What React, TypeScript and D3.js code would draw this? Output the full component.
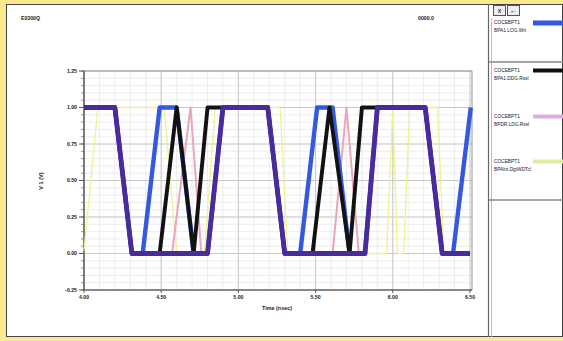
import React from "react";
import * as d3 from "d3";

const W = 563;
const H = 341;

// Axis ticks
const yTicks = [-0.25, 0, 0.25, 0.5, 0.75, 1.0, 1.25];
const yTickLabels = ["-0.25", "0.00", "0.25", "0.50", "0.75", "1.00", "1.25"];
const xTicks = [0, 0.5, 1.0, 1.5, 2.0, 2.5];
const xTickLabels = ["4.00", "4.50", "5.00", "5.50", "6.00", "6.50"];

// Traces (time in nsec offset, voltage in V)
const yellowT = [0, 0.09, 0.52, 0.6, 0.78, 0.85, 1.27, 1.32, 1.96, 2.0, 2.03, 2.07, 2.11, 2.29, 2.33, 2.5];
const yellowV = [0.02, 1, 1, 0, 0, 1, 1, 0, 0, 1, 0, 0, 1, 1, 0, 0];

const pinkT = [0, 0.2, 0.31, 0.57, 0.69, 0.76, 0.8, 0.9, 1.19, 1.3, 1.61, 1.7, 1.78, 1.82, 1.9, 2.21, 2.32, 2.5];
const pinkV = [1, 1, 0, 0, 1, 0, 0, 1, 1, 0, 0, 1, 0, 0, 1, 1, 0, 0];

const blueT = [0, 0.2, 0.31, 0.38, 0.49, 0.6, 0.71, 0.8, 0.9, 1.19, 1.3, 1.4, 1.51, 1.61, 1.72, 1.82, 1.9, 2.21, 2.32, 2.39, 2.505];
const blueV = [1, 1, 0, 0, 1, 1, 0, 0, 1, 1, 0, 0, 1, 1, 0, 0, 1, 1, 0, 0, 1];

const blackT = [0, 0.2, 0.31, 0.49, 0.6, 0.71, 0.8, 1.19, 1.3, 1.48, 1.59, 1.72, 1.8, 2.21, 2.32, 2.5];
const blackV = [1, 1, 0, 0, 1, 0, 1, 1, 0, 0, 1, 0, 1, 1, 0, 0];

const purpleT = [0, 0.2, 0.31, 0.8, 0.9, 1.19, 1.3, 1.82, 1.9, 2.21, 2.32, 2.5];
const purpleV = [1, 1, 0, 0, 1, 1, 0, 0, 1, 1, 0, 0];

const legendNames = ["COCEBPT1", "COCEBPT1", "COCEBPT1", "COCEBPT1"];
const legendSubs = ["BPA1.LOG.Wrt", "BPA1.DDG.Rssl", "BPDR.LDG.Rssl", "BPAlnt.DgtWDTcl"];
const legendColors = ["#3558e0", "#111111", "#dcaee0", "#e2eba6"];

const zip = (t: number[], v: number[]) => t.map((d, i) => [d, v[i]] as [number, number]);

export default function App() {
  const x = d3.scaleLinear().domain([0, 2.5]).range([84, 470]);
  const y = d3.scaleLinear().domain([-0.25, 1.25]).range([290, 71]);
  const line = d3
    .line<[number, number]>()
    .x((d) => x(d[0]))
    .y((d) => y(d[1]));

  const xMinor = d3.range(0, 2.5001, 0.1);
  const yMinor = d3.range(-0.25, 1.2501, 0.05);

  const traces = [
    { data: zip(yellowT, yellowV), color: "#f0f290", w: 1.3 },
    { data: zip(pinkT, pinkV), color: "#eaa6bb", w: 2 },
    { data: zip(blueT, blueV), color: "#3558e0", w: 4.4 },
    { data: zip(blackT, blackV), color: "#121212", w: 3.9 },
    { data: zip(purpleT, purpleV), color: "#4a2b9c", w: 4.8 },
  ];

  const font = "'Liberation Sans', Arial, sans-serif";
  const legendY = [22, 70, 116, 161];

  return (
    <div style={{ position: "fixed", left: 0, top: 0 }}>
      <svg width={W} height={H} style={{ display: "block" }}>
        <rect x={0} y={0} width={W} height={H} fill="#fce890" />
        <rect x={6.5} y={4.5} width={556} height={332} fill="#fff" stroke="#444" />
        {/* right panel dividers */}
        <line x1={488.5} x2={488.5} y1={4} y2={337} stroke="#666" strokeWidth={1.2} />
        <line x1={491.5} x2={491.5} y1={18} y2={337} stroke="#bbb" />
        <line x1={489} x2={563} y1={62} y2={62} stroke="#888" strokeWidth={1.5} />
        <line x1={489} x2={563} y1={200} y2={200} stroke="#888" strokeWidth={1.5} />
        <rect x={493.5} y={5.5} width={12} height={10} fill="#eee" stroke="#555" />
        <rect x={507.5} y={5.5} width={12} height={10} fill="#eee" stroke="#555" />
        <text x={499.5} y={13} fontSize={7} textAnchor="middle" fontFamily={font}>x</text>
        <text x={513.5} y={13} fontSize={7} textAnchor="middle" fontFamily={font}>←</text>

        {/* legend */}
        {legendNames.map((n, i) => (
          <g key={i}>
            <text x={494} y={legendY[i] + 2} fontSize={4.8} fontFamily={font} fill="#222">{n}</text>
            <text x={494} y={legendY[i] + 10} fontSize={4.8} fontFamily={font} fill="#222">{legendSubs[i]}</text>
            <rect x={533} y={legendY[i] - 1.5} width={30} height={i === 0 ? 5 : 4} fill={legendColors[i]} />
          </g>
        ))}

        {/* titles */}
        <text x={21} y={20} fontSize={5.2} fontWeight="bold" fontFamily={font} fill="#222">E0300Q</text>
        <text x={418} y={20} fontSize={5.2} fontWeight="bold" fontFamily={font} fill="#222">0000.0</text>

        {/* grid minor */}
        {xMinor.map((v, i) => (
          <line key={"xm" + i} x1={x(v)} x2={x(v)} y1={71} y2={290} stroke="#e9e9e9" strokeWidth={0.8} />
        ))}
        {yMinor.map((v, i) => (
          <line key={"ym" + i} x1={84} x2={472} y1={y(v)} y2={y(v)} stroke="#e9e9e9" strokeWidth={0.8} />
        ))}
        {/* grid major */}
        {xTicks.map((v, i) => (
          <line key={"xg" + i} x1={x(v)} x2={x(v)} y1={71} y2={290} stroke="#c4c4c4" strokeWidth={0.9} />
        ))}
        {yTicks.map((v, i) => (
          <line key={"yg" + i} x1={84} x2={472} y1={y(v)} y2={y(v)} stroke="#c4c4c4" strokeWidth={0.9} />
        ))}
        <rect x={84} y={71} width={388} height={219} fill="none" stroke="#999" />
        <line x1={84} x2={84} y1={71} y2={290} stroke="#555" strokeWidth={1.2} />
        <line x1={84} x2={472} y1={290} y2={290} stroke="#555" strokeWidth={1.2} />

        {/* ticks */}
        {yMinor.map((v, i) => (
          <line key={"ymt" + i} x1={81} x2={84} y1={y(v)} y2={y(v)} stroke="#666" strokeWidth={0.7} />
        ))}
        {yTicks.map((v, i) => (
          <g key={"yt" + i}>
            <line x1={79} x2={84} y1={y(v)} y2={y(v)} stroke="#555" />
            <text x={77} y={y(v) + 1.8} fontSize={5.2} fontWeight="bold" textAnchor="end" fontFamily={font} fill="#222">
              {yTickLabels[i]}
            </text>
          </g>
        ))}
        {xTicks.map((v, i) => (
          <g key={"xt" + i}>
            <line x1={x(v)} x2={x(v)} y1={290} y2={293} stroke="#555" />
            <text x={x(v)} y={299} fontSize={5.2} fontWeight="bold" textAnchor="middle" fontFamily={font} fill="#222">
              {xTickLabels[i]}
            </text>
          </g>
        ))}
        <text x={277} y={310} fontSize={5.4} fontWeight="bold" textAnchor="middle" fontFamily={font} fill="#222">
          Time (nsec)
        </text>
        <text
          transform="translate(43,181) rotate(-90)"
          fontSize={5.6}
          fontWeight="bold"
          textAnchor="middle"
          fontFamily={font}
          fill="#222"
        >
          V 1 (V)
        </text>

        {/* traces */}
        <g clipPath="url(#plotclip)">
          <defs>
            <clipPath id="plotclip">
              <rect x={80} y={60} width={394} height={240} />
            </clipPath>
          </defs>
          {traces.map((t, i) => (
            <path key={i} d={line(t.data) || ""} fill="none" stroke={t.color} strokeWidth={t.w} strokeLinejoin="round" />
          ))}
        </g>
      </svg>
    </div>
  );
}
